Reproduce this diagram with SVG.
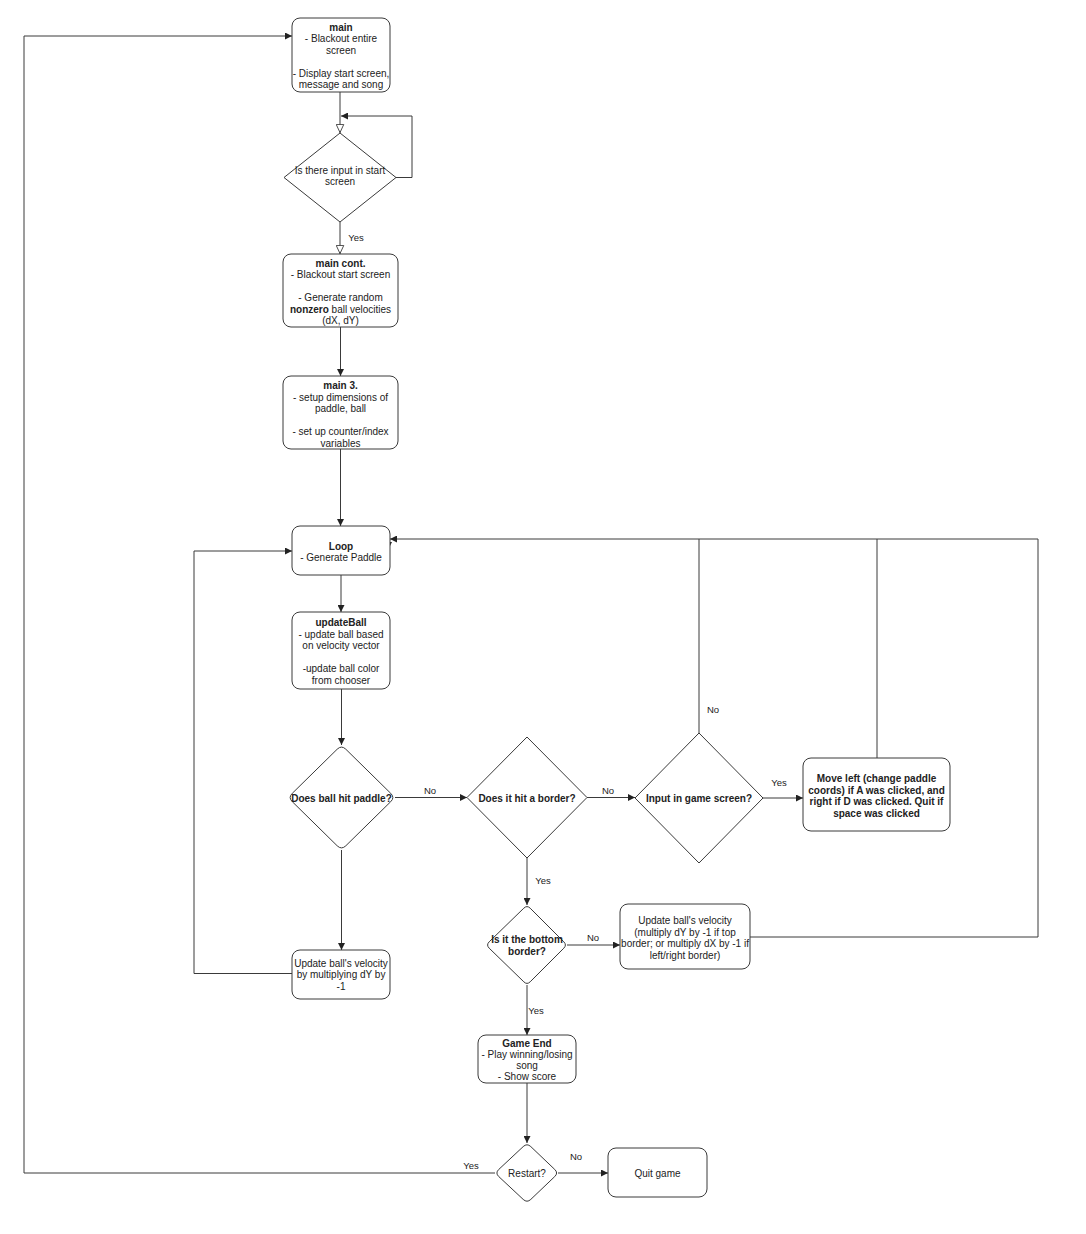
<svg xmlns="http://www.w3.org/2000/svg" width="1086" height="1234" viewBox="0 0 1086 1234">
<defs>
<style>
.box{fill:#fff;stroke:#3a3a3a;stroke-width:1}
.t{font-family:"Liberation Sans",Arial,sans-serif;font-size:10px;fill:#222;text-anchor:middle}
.b{font-weight:bold}
.lbl{font-family:"Liberation Sans",Arial,sans-serif;font-size:9.5px;fill:#222;text-anchor:middle}
.c{fill:none;stroke:#3a3a3a;stroke-width:1}
</style>
<marker id="arr" viewBox="0 0 10 10" refX="10" refY="5" markerWidth="7" markerHeight="7" markerUnits="userSpaceOnUse" orient="auto">
<path d="M0,0 L10,5 L0,10 Z" fill="#222"/>
</marker>
<marker id="open" viewBox="0 0 10 10" refX="10" refY="5" markerWidth="9" markerHeight="9" markerUnits="userSpaceOnUse" orient="auto">
<path d="M0.5,0.8 L9.5,5 L0.5,9.2 Z" fill="#fff" stroke="#3a3a3a" stroke-width="1"/>
</marker>
</defs>
<rect width="1086" height="1234" fill="#fff"/>

<g id="connectors">
<path class="c" d="M340,92 L340,133" marker-end="url(#open)"/>
<path class="c" d="M396,177.5 L412,177.5 L412,116 L341,116" marker-end="url(#arr)"/>
<path class="c" d="M340,222 L340,254" marker-end="url(#open)"/>
<path class="c" d="M340.5,327 L340.5,376" marker-end="url(#arr)"/>
<path class="c" d="M340.5,449 L340.5,526" marker-end="url(#arr)"/>
<path class="c" d="M341,575 L341,612" marker-end="url(#arr)"/>
<path class="c" d="M341.5,689 L341.5,745" marker-end="url(#arr)"/>
<path class="c" d="M395,797.5 L467,797.5" marker-end="url(#arr)"/>
<path class="c" d="M341.5,850 L341.5,950" marker-end="url(#arr)"/>
<path class="c" d="M292,973.5 L194,973.5 L194,551 L292,551" marker-end="url(#arr)"/>
<path class="c" d="M587,797.5 L635,797.5" marker-end="url(#arr)"/>
<path class="c" d="M763,798 L803,798" marker-end="url(#arr)"/>
<path class="c" d="M699,733 L699,539 L390,539" marker-end="url(#arr)"/>
<path class="c" d="M877,758 L877,539 L699,539"/>
<path class="c" d="M750,937 L1038,937 L1038,539 L877,539"/>
<polygon points="386,542 392,542 389,548" fill="#222"/>
<path class="c" d="M527,858 L527,905" marker-end="url(#arr)"/>
<path class="c" d="M567,945 L620,945" marker-end="url(#arr)"/>
<path class="c" d="M527,985 L527,1035" marker-end="url(#arr)"/>
<path class="c" d="M527,1083 L527,1143" marker-end="url(#arr)"/>
<path class="c" d="M558,1173 L608,1173" marker-end="url(#arr)"/>
<path class="c" d="M495,1173 L24,1173 L24,36 L292,36" marker-end="url(#arr)"/>
<text class="lbl" x="356" y="241">Yes</text>
<text class="lbl" x="430" y="794">No</text>
<text class="lbl" x="608" y="794">No</text>
<text class="lbl" x="779" y="786">Yes</text>
<text class="lbl" x="713" y="713">No</text>
<text class="lbl" x="543" y="884">Yes</text>
<text class="lbl" x="593" y="941">No</text>
<text class="lbl" x="536" y="1014">Yes</text>
<text class="lbl" x="576" y="1160">No</text>
<text class="lbl" x="471" y="1169">Yes</text>
</g>

<g id="main">
<rect class="box" x="292" y="18" width="98" height="74" rx="8"/>
<text class="t b" x="341" y="30.5">main</text>
<text class="t" x="341" y="42">- Blackout entire</text>
<text class="t" x="341" y="53.5">screen</text>
<text class="t" x="341" y="76.5">- Display start screen,</text>
<text class="t" x="341" y="88">message and song</text>
</g>

<g id="start-input">
<polygon class="box" points="340,133 396,177.5 340,222 284,177.5"/>
<text class="t" x="340" y="173.5">Is there input in start</text>
<text class="t" x="340" y="185">screen</text>
</g>

<g id="main-cont">
<rect class="box" x="283" y="254" width="115" height="73" rx="8"/>
<text class="t b" x="340.5" y="266.5">main cont.</text>
<text class="t" x="340.5" y="278">- Blackout start screen</text>
<text class="t" x="340.5" y="301">- Generate random</text>
<text class="t" x="340.5" y="312.5"><tspan class="b">nonzero</tspan> ball velocities</text>
<text class="t" x="340.5" y="324">(dX, dY)</text>
</g>

<g id="main3">
<rect class="box" x="283" y="376" width="115" height="73" rx="8"/>
<text class="t b" x="340.5" y="389">main 3.</text>
<text class="t" x="340.5" y="400.5">- setup dimensions of</text>
<text class="t" x="340.5" y="412">paddle, ball</text>
<text class="t" x="340.5" y="435">- set up counter/index</text>
<text class="t" x="340.5" y="446.5">variables</text>
</g>

<g id="loop">
<rect class="box" x="292" y="526" width="98" height="49" rx="8"/>
<text class="t b" x="341" y="549.5">Loop</text>
<text class="t" x="341" y="561">- Generate Paddle</text>
</g>

<g id="updateBall">
<rect class="box" x="292" y="612" width="98" height="77" rx="8"/>
<text class="t b" x="341" y="626">updateBall</text>
<text class="t" x="341" y="637.5">- update ball based</text>
<text class="t" x="341" y="649">on velocity vector</text>
<text class="t" x="341" y="672">-update ball color</text>
<text class="t" x="341" y="683.5">from chooser</text>
</g>

<g id="hit-paddle">
<path class="box" d="M292.3,793.3 Q288,797.5 292.3,801.7 L337.2,845.8 Q341.5,850 345.8,845.8 L390.7,801.7 Q395,797.5 390.7,793.3 L345.8,749.2 Q341.5,745 337.2,749.2 Z"/>
<text class="t b" x="341.5" y="801.5">Does ball hit paddle?</text>
</g>

<g id="hit-border">
<polygon class="box" points="527,737 587,797.5 527,858 467,797.5"/>
<text class="t b" x="527" y="801.5">Does it hit a border?</text>
</g>

<g id="game-input">
<polygon class="box" points="699,733 763,798 699,863 635,798"/>
<text class="t b" x="699" y="802">Input in game screen?</text>
</g>

<g id="move">
<rect class="box" x="803" y="758" width="147" height="73" rx="8"/>
<text class="t b" x="876.5" y="782">Move left (change paddle</text>
<text class="t b" x="876.5" y="793.5">coords) if A was clicked, and</text>
<text class="t b" x="876.5" y="805">right if D was clicked. Quit if</text>
<text class="t b" x="876.5" y="816.5">space was clicked</text>
</g>

<g id="bottom-border">
<path class="box" d="M489.2,941.8 Q486,945 489.2,948.2 L523.8,981.8 Q527,985 530.2,981.8 L563.8,948.2 Q567,945 563.8,941.8 L530.2,908.2 Q527,905 523.8,908.2 Z"/>
<text class="t b" x="527" y="942.5">Is it the bottom</text>
<text class="t b" x="527" y="954.5">border?</text>
</g>

<g id="update-border">
<rect class="box" x="620" y="904" width="130" height="65" rx="8"/>
<text class="t" x="685" y="924">Update ball's velocity</text>
<text class="t" x="685" y="935.5">(multiply dY by -1 if top</text>
<text class="t" x="685" y="947">border; or multiply dX by -1 if</text>
<text class="t" x="685" y="958.5">left/right border)</text>
</g>

<g id="update-paddle">
<rect class="box" x="292" y="950" width="98" height="49" rx="8"/>
<text class="t" x="341" y="966.5">Update ball's velocity</text>
<text class="t" x="341" y="978">by multiplying dY by</text>
<text class="t" x="341" y="989.5">-1</text>
</g>

<g id="game-end">
<rect class="box" x="478" y="1035" width="98" height="48" rx="8"/>
<text class="t b" x="527" y="1046.5">Game End</text>
<text class="t" x="527" y="1058">- Play winning/losing</text>
<text class="t" x="527" y="1069">song</text>
<text class="t" x="527" y="1080">- Show score</text>
</g>

<g id="restart">
<path class="box" d="M498.8,1169.4 Q495,1173 498.8,1176.6 L523.2,1199.4 Q527,1203 530.8,1199.4 L554.7,1176.6 Q558.5,1173 554.7,1169.4 L530.8,1146.6 Q527,1143 523.2,1146.6 Z"/>
<text class="t" x="527" y="1176.5">Restart?</text>
</g>

<g id="quit">
<rect class="box" x="608" y="1148" width="99" height="49" rx="8"/>
<text class="t" x="657.5" y="1176.5">Quit game</text>
</g>
</svg>
